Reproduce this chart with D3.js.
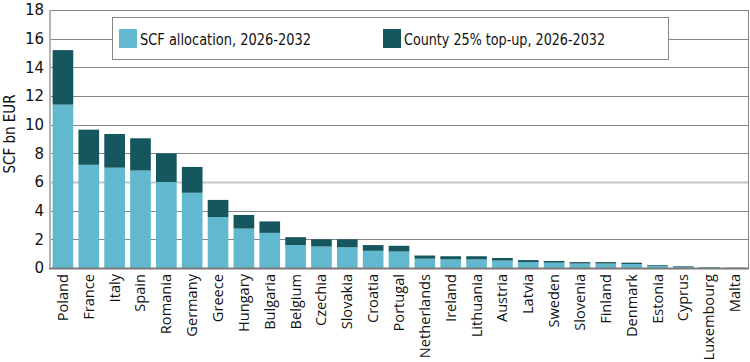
<!DOCTYPE html>
<html>
<head>
<meta charset="utf-8">
<script src="https://cdn.jsdelivr.net/npm/d3@7"></script>
<style>
  html, body { margin: 0; padding: 0; background: #fff; }
  svg { display: block; }
</style>
</head>
<body>
<svg id="chart" width="750" height="362"></svg>
<script>
const countries = ["Poland","France","Italy","Spain","Romania","Germany","Greece","Hungary","Bulgaria","Belgium","Czechia","Slovakia","Croatia","Portugal","Netherlands","Ireland","Lithuania","Austria","Latvia","Sweden","Slovenia","Finland","Denmark","Estonia","Cyprus","Luxembourg","Malta"];
const scfAllocation = [11.4, 7.2, 7.0, 6.8, 6.0, 5.25, 3.55, 2.75, 2.45, 1.6, 1.5, 1.45, 1.2, 1.15, 0.65, 0.6, 0.6, 0.52, 0.41, 0.37, 0.31, 0.31, 0.28, 0.16, 0.1, 0.05, 0.02];
const topUp = [3.8, 2.45, 2.35, 2.25, 2.0, 1.8, 1.2, 0.95, 0.8, 0.55, 0.5, 0.55, 0.4, 0.4, 0.22, 0.22, 0.22, 0.18, 0.14, 0.12, 0.1, 0.1, 0.09, 0.05, 0.04, 0.02, 0.01];
const yTicks = [0, 2, 4, 6, 8, 10, 12, 14, 16, 18];
const seriesNames = ["SCF allocation, 2026-2032", "County 25% top-up, 2026-2032"];
const seriesColors = ["#62b9cf", "#16565f"];

(function () {
const svg = d3.select("#chart");
const mLeft = 50, mRight = 748, mTop = 10, mBottom = 268;

const x = d3.scaleBand().domain(countries).range([mLeft, mRight]).paddingInner(0.2).paddingOuter(0.1);
const y = d3.scaleLinear().domain([0, 18]).range([mBottom, mTop]);

const data = countries.map((c, i) => ({country: c, scf: scfAllocation[i], top: topUp[i]}));
const stack = d3.stack().keys(["scf", "top"])(data);

// gridlines
svg.append("g").selectAll("line").data(yTicks.filter(t => t > 0)).join("line")
  .attr("x1", mLeft).attr("x2", mRight)
  .attr("y1", d => Math.round(y(d)) + 0.5).attr("y2", d => Math.round(y(d)) + 0.5)
  .attr("stroke", d => d === 6 ? "#c4c4c4" : "#858585")
  .attr("stroke-width", d => d === 6 ? 2 : 1);

// right border
svg.append("line").attr("x1", mRight + 0.5).attr("x2", mRight + 0.5).attr("y1", mTop).attr("y2", mBottom)
  .attr("stroke", "#858585");

// bars
svg.append("g").selectAll("g").data(stack).join("g")
  .attr("fill", (d, i) => seriesColors[i])
  .selectAll("rect").data(d => d).join("rect")
  .attr("x", d => x(d.data.country))
  .attr("width", x.bandwidth())
  .attr("y", d => y(d[1]))
  .attr("height", d => y(d[0]) - y(d[1]));

// left axis line
svg.append("line").attr("x1", mLeft).attr("x2", mLeft).attr("y1", mTop).attr("y2", mBottom)
  .attr("stroke", "#b5b5b5").attr("stroke-width", 2);
// bottom axis line
svg.append("line").attr("x1", mLeft - 1).attr("x2", mRight + 1).attr("y1", mBottom + 0.5).attr("y2", mBottom + 0.5)
  .attr("stroke", "#7a7a7a").attr("stroke-width", 2);

// y axis
const yAxis = d3.axisLeft(y).tickValues(yTicks).tickSize(0).tickPadding(6);
const gy = svg.append("g").attr("transform", `translate(${mLeft},0)`).call(yAxis);
gy.select(".domain").remove();
gy.selectAll("text").attr("font-family", "DejaVu Sans, Verdana, sans-serif").attr("font-size", 15).attr("fill", "#111");

// y title
svg.append("text")
  .attr("transform", `translate(15,${(mTop + mBottom) / 2 - 5}) rotate(-90)`)
  .attr("text-anchor", "middle")
  .attr("font-family", "DejaVu Sans Condensed, DejaVu Sans, sans-serif")
  .attr("font-size", 15)
  .attr("fill", "#111")
  .text("SCF bn EUR");

// x axis
const xAxis = d3.axisBottom(x).tickSize(0).tickPadding(0);
const gx = svg.append("g").attr("transform", `translate(0,${mBottom})`).call(xAxis);
gx.select(".domain").remove();
gx.selectAll("text")
  .attr("font-family", "Open Sans, sans-serif")
  .attr("font-size", 14.6)
  .attr("fill", "#111")
  .attr("text-anchor", "end")
  .attr("dy", null)
  .attr("y", 0)
  .attr("transform", "translate(5,6) rotate(-90)");

// legend
const lg = svg.append("g");
lg.append("rect").attr("x", 112.5).attr("y", 17.5).attr("width", 556).attr("height", 42)
  .attr("fill", "#fff").attr("stroke", "#858585");
const legendX = [119, 383];
const legendW = [171, 201];
seriesNames.forEach((name, i) => {
  lg.append("rect").attr("x", legendX[i]).attr("y", 29).attr("width", 18).attr("height", 19)
    .attr("fill", seriesColors[i]);
  lg.append("text").attr("x", legendX[i] + 21).attr("y", 45)
    .attr("font-family", "DejaVu Sans Condensed, sans-serif")
    .attr("font-size", 16)
    .attr("fill", "#111")
    .attr("textLength", legendW[i])
    .attr("lengthAdjust", "spacingAndGlyphs")
    .text(name);
});
})();
</script>
</body>
</html>
